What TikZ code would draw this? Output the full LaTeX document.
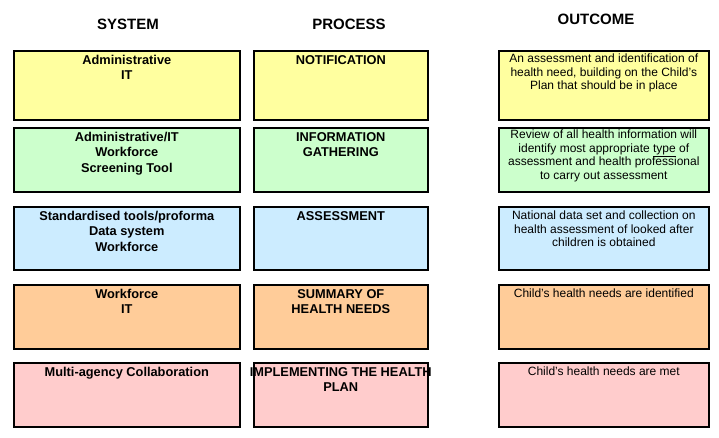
\documentclass[tikz,border=0pt]{standalone}
\usepackage{fontspec}
\setmainfont{Liberation Sans}
\begin{document}
\begin{tikzpicture}[x=1pt,y=-1pt,
 box/.style={draw=black,line width=1.6pt,inner sep=0pt,anchor=north west},
 bt/.style={anchor=north,align=center,font=\fontsize{12.8}{15.5}\selectfont\bfseries,inner sep=0pt},
 ot/.style={anchor=north,align=center,font=\fontsize{12}{13.5}\selectfont,inner sep=0pt},
 hd/.style={font=\fontsize{15}{17}\selectfont\bfseries}]
\useasboundingbox (0,0) rectangle (719,438);
\definecolor{cy}{HTML}{FFFF9F}
\definecolor{cg}{HTML}{CCFFCC}
\definecolor{cb}{HTML}{CCECFF}
\definecolor{co}{HTML}{FFCC99}
\definecolor{cp}{HTML}{FFCCCC}
\node[hd] (h1) at (128,24) {SYSTEM};
\node[hd] (h2) at (349,24) {PROCESS};
\node[hd] (h3) at (596,19) {OUTCOME};
% rows
\foreach \n/\y/\h/\c in {1/50/69/cy,2/127/64/cg,3/206/63/cb,4/284/64/co,5/362/64/cp}{
 \node[box,fill=\c,minimum width=226,minimum height=\h] (s\n) at (13,\y) {};
 \node[box,fill=\c,minimum width=174,minimum height=\h] (p\n) at (253,\y) {};
 \node[box,fill=\c,minimum width=210,minimum height=\h] (o\n) at (498,\y) {};
}
\node[bt] (ts1) at ([yshift=-5]s1.north) {Administrative\\IT};
\node[bt] (ts2) at ([yshift=-5]s2.north) {Administrative/IT\\Workforce\\Screening Tool};
\node[bt] (ts3) at ([yshift=-5]s3.north) {Standardised tools/proforma\\Data system\\Workforce};
\node[bt] (ts4) at ([yshift=-5]s4.north) {Workforce\\IT};
\node[bt] (ts5) at ([yshift=-5]s5.north) {Multi-agency Collaboration};
\node[bt] (tp1) at ([yshift=-5]p1.north) {NOTIFICATION};
\node[bt] (tp2) at ([yshift=-5]p2.north) {INFORMATION\\GATHERING};
\node[bt] (tp3) at ([yshift=-5]p3.north) {ASSESSMENT};
\node[bt] (tp4) at ([yshift=-5]p4.north) {SUMMARY OF\\HEALTH NEEDS};
\node[bt] (tp5) at ([yshift=-5]p5.north) {IMPLEMENTING THE HEALTH\\PLAN};
\node[ot] (to1) at ([yshift=-4]o1.north) {An assessment and identification of\\health need,  building on the Child's\\Plan that should be in place};
\node[ot] (to2) at ([yshift=-3]o2.north) {Review of all health information will\\identify most appropriate \underline{type} of\\assessment and health professional\\to carry out assessment};
\node[ot] (to3) at ([yshift=-5]o3.north) {National data set and collection on\\health assessment of looked after\\children is obtained};
\node[ot] (to4) at ([yshift=-5]o4.north) {Child's health needs are identified};
\node[ot] (to5) at ([yshift=-5]o5.north) {Child's health needs are met};
\end{tikzpicture}
\end{document}
